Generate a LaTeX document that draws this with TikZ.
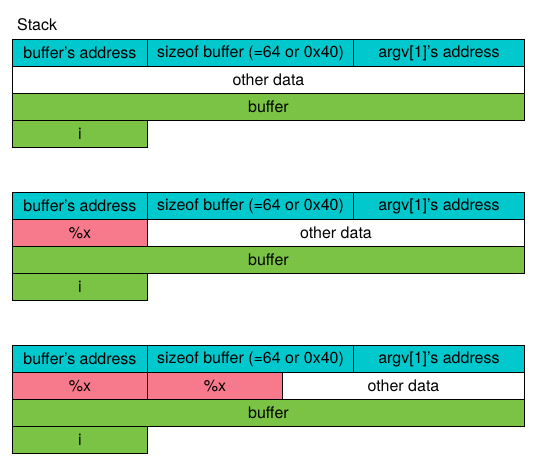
\documentclass[tikz,border=0pt]{standalone}
\usepackage{fontspec}
\setmainfont{TeX Gyre Heros}
\definecolor{addrcyan}{RGB}{0,200,204}
\definecolor{bufgreen}{RGB}{122,195,68}
\definecolor{fmtpink}{RGB}{246,122,139}

\begin{document}
\begin{tikzpicture}[x=1pt,y=-1pt,
    cell/.style={draw,line width=0.9pt,minimum height=27pt,inner sep=0pt,
      anchor=north west,font=\fontsize{16}{19}\selectfont},
    addr/.style={cell,fill=addrcyan},
    buf/.style={cell,fill=bufgreen},
    fmt/.style={cell,fill=fmtpink},
    other/.style={cell,fill=white}]
    \useasboundingbox (0,0) rectangle (535,464);
    \node [anchor=base west,inner sep=0pt,font=\fontsize{16}{19}\selectfont] (stack) at (17,30) {Stack};
    % first layout
    \node [addr,minimum width=135pt] (addr1) at (12,39) {buffer’s address};
    \node [addr,minimum width=206pt] (size1) at (147,39) {sizeof buffer (=64 or 0x40)};
    \node [addr,minimum width=171pt] (argv1) at (353,39) {argv[1]’s address};
    \node [other,minimum width=512pt] (other1) at (12,66) {other data};
    \node [buf,minimum width=512pt] (buf1) at (12,93) {buffer};
    \node [buf,minimum width=135pt] (i1) at (12,120) {i};
    % one %x
    \node [addr,minimum width=135pt] (addr2) at (12,192) {buffer’s address};
    \node [addr,minimum width=206pt] (size2) at (147,192) {sizeof buffer (=64 or 0x40)};
    \node [addr,minimum width=171pt] (argv2) at (353,192) {argv[1]’s address};
    \node [fmt,minimum width=135pt] (fmt2) at (12,219) {\%x};
    \node [other,minimum width=377pt] (other2) at (147,219) {other data};
    \node [buf,minimum width=512pt] (buf2) at (12,246) {buffer};
    \node [buf,minimum width=135pt] (i2) at (12,273) {i};
    % two %x
    \node [addr,minimum width=135pt] (addr3) at (12,345) {buffer’s address};
    \node [addr,minimum width=206pt] (size3) at (147,345) {sizeof buffer (=64 or 0x40)};
    \node [addr,minimum width=171pt] (argv3) at (353,345) {argv[1]’s address};
    \node [fmt,minimum width=135pt] (fmt3a) at (12,372) {\%x};
    \node [fmt,minimum width=135pt] (fmt3b) at (147,372) {\%x};
    \node [other,minimum width=242pt] (other3) at (282,372) {other data};
    \node [buf,minimum width=512pt] (buf3) at (12,399) {buffer};
    \node [buf,minimum width=135pt] (i3) at (12,426) {i};
  \end{tikzpicture}
\end{document}
